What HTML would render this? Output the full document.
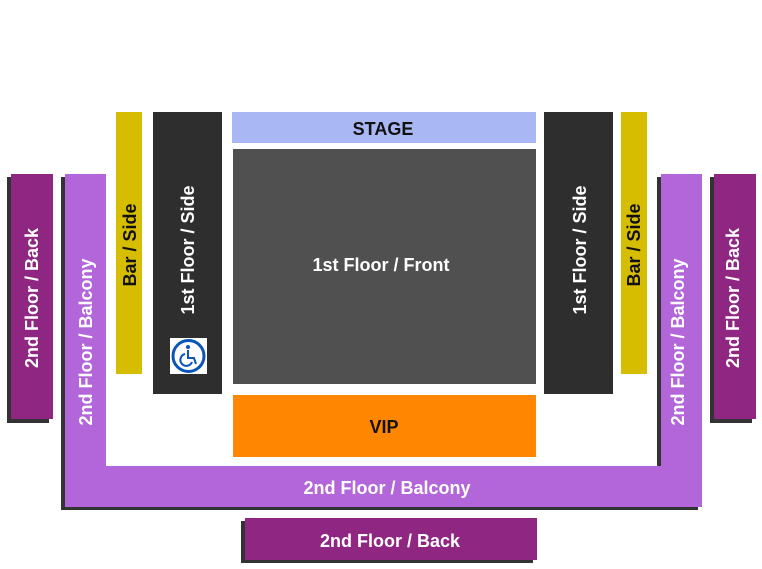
<!DOCTYPE html>
<html><head><meta charset="utf-8"><style>
html,body{margin:0;padding:0;background:#fff;}
body{width:762px;height:569px;position:relative;overflow:hidden;font-family:"Liberation Sans",sans-serif;font-weight:bold;font-size:18px;}
.r{position:absolute;}
.t{position:absolute;white-space:nowrap;transform:translate(-50%,-50%);line-height:1;}
.v{position:absolute;white-space:nowrap;transform:translate(-50%,-50%) rotate(-90deg);line-height:1;}
.w{color:#fff;}
</style></head><body>
<div class="r" style="left:7px;top:177px;width:42px;height:246px;background:#333"></div>
<div class="r" style="left:710px;top:177px;width:42px;height:246px;background:#333"></div>
<div class="r" style="left:61px;top:177px;width:41px;height:333px;background:#333"></div>
<div class="r" style="left:61px;top:469px;width:637px;height:41px;background:#333"></div>
<div class="r" style="left:657px;top:177px;width:41px;height:333px;background:#333"></div>
<div class="r" style="left:241px;top:521px;width:292px;height:42px;background:#333"></div>
<div class="r" style="left:11px;top:174px;width:42px;height:245px;background:#8e2682"></div>
<div class="r" style="left:714px;top:174px;width:42px;height:245px;background:#8e2682"></div>
<div class="r" style="left:65px;top:174px;width:41px;height:333px;background:#b366d9"></div>
<div class="r" style="left:661px;top:174px;width:41px;height:333px;background:#b366d9"></div>
<div class="r" style="left:65px;top:466px;width:637px;height:41px;background:#b366d9"></div>
<div class="r" style="left:245px;top:518px;width:292px;height:42px;background:#8e2682"></div>
<div class="r" style="left:116px;top:112px;width:26px;height:262px;background:#d6bd00"></div>
<div class="r" style="left:621px;top:112px;width:26px;height:262px;background:#d6bd00"></div>
<div class="r" style="left:153px;top:112px;width:69px;height:282px;background:#2e2e2e"></div>
<div class="r" style="left:544px;top:112px;width:69px;height:282px;background:#2e2e2e"></div>
<div class="r" style="left:232px;top:112px;width:304px;height:31px;background:#aab7f5"></div>
<div class="r" style="left:233px;top:149px;width:303px;height:235px;background:#505050"></div>
<div class="r" style="left:233px;top:395px;width:303px;height:62px;background:#ff8600"></div>
<div class="r" style="left:170px;top:338px;width:37px;height:36px;background:#fff"></div>
<svg class="r" style="left:170px;top:338px" width="37" height="36" viewBox="0 0 37 36">
<circle cx="18.5" cy="18" r="15.5" fill="none" stroke="#0a56b8" stroke-width="3"/>
<circle cx="18" cy="9" r="2" fill="#0a56b8"/>
<path d="M18 12 V20 H24 L26 26 M15 16 A6 6 0 1 0 22 24" fill="none" stroke="#0a56b8" stroke-width="2"/>
</svg>
<div class="t" style="left:383px;top:129px;color:#111">STAGE</div>
<div class="t w" style="left:381px;top:265px;">1st Floor / Front</div>
<div class="t" style="left:384px;top:427px;color:#111">VIP</div>
<div class="t w" style="left:387px;top:488px;">2nd Floor / Balcony</div>
<div class="t w" style="left:390px;top:541px;">2nd Floor / Back</div>
<div class="v w" style="left:32px;top:298px;">2nd Floor / Back</div>
<div class="v w" style="left:733px;top:298px;">2nd Floor / Back</div>
<div class="v w" style="left:86px;top:342px;">2nd Floor / Balcony</div>
<div class="v w" style="left:678px;top:342px;">2nd Floor / Balcony</div>
<div class="v" style="left:130px;top:245px;color:#111">Bar / Side</div>
<div class="v" style="left:634px;top:245px;color:#111">Bar / Side</div>
<div class="v w" style="left:188px;top:250px;">1st Floor / Side</div>
<div class="v w" style="left:580px;top:250px;">1st Floor / Side</div>
</body></html>
